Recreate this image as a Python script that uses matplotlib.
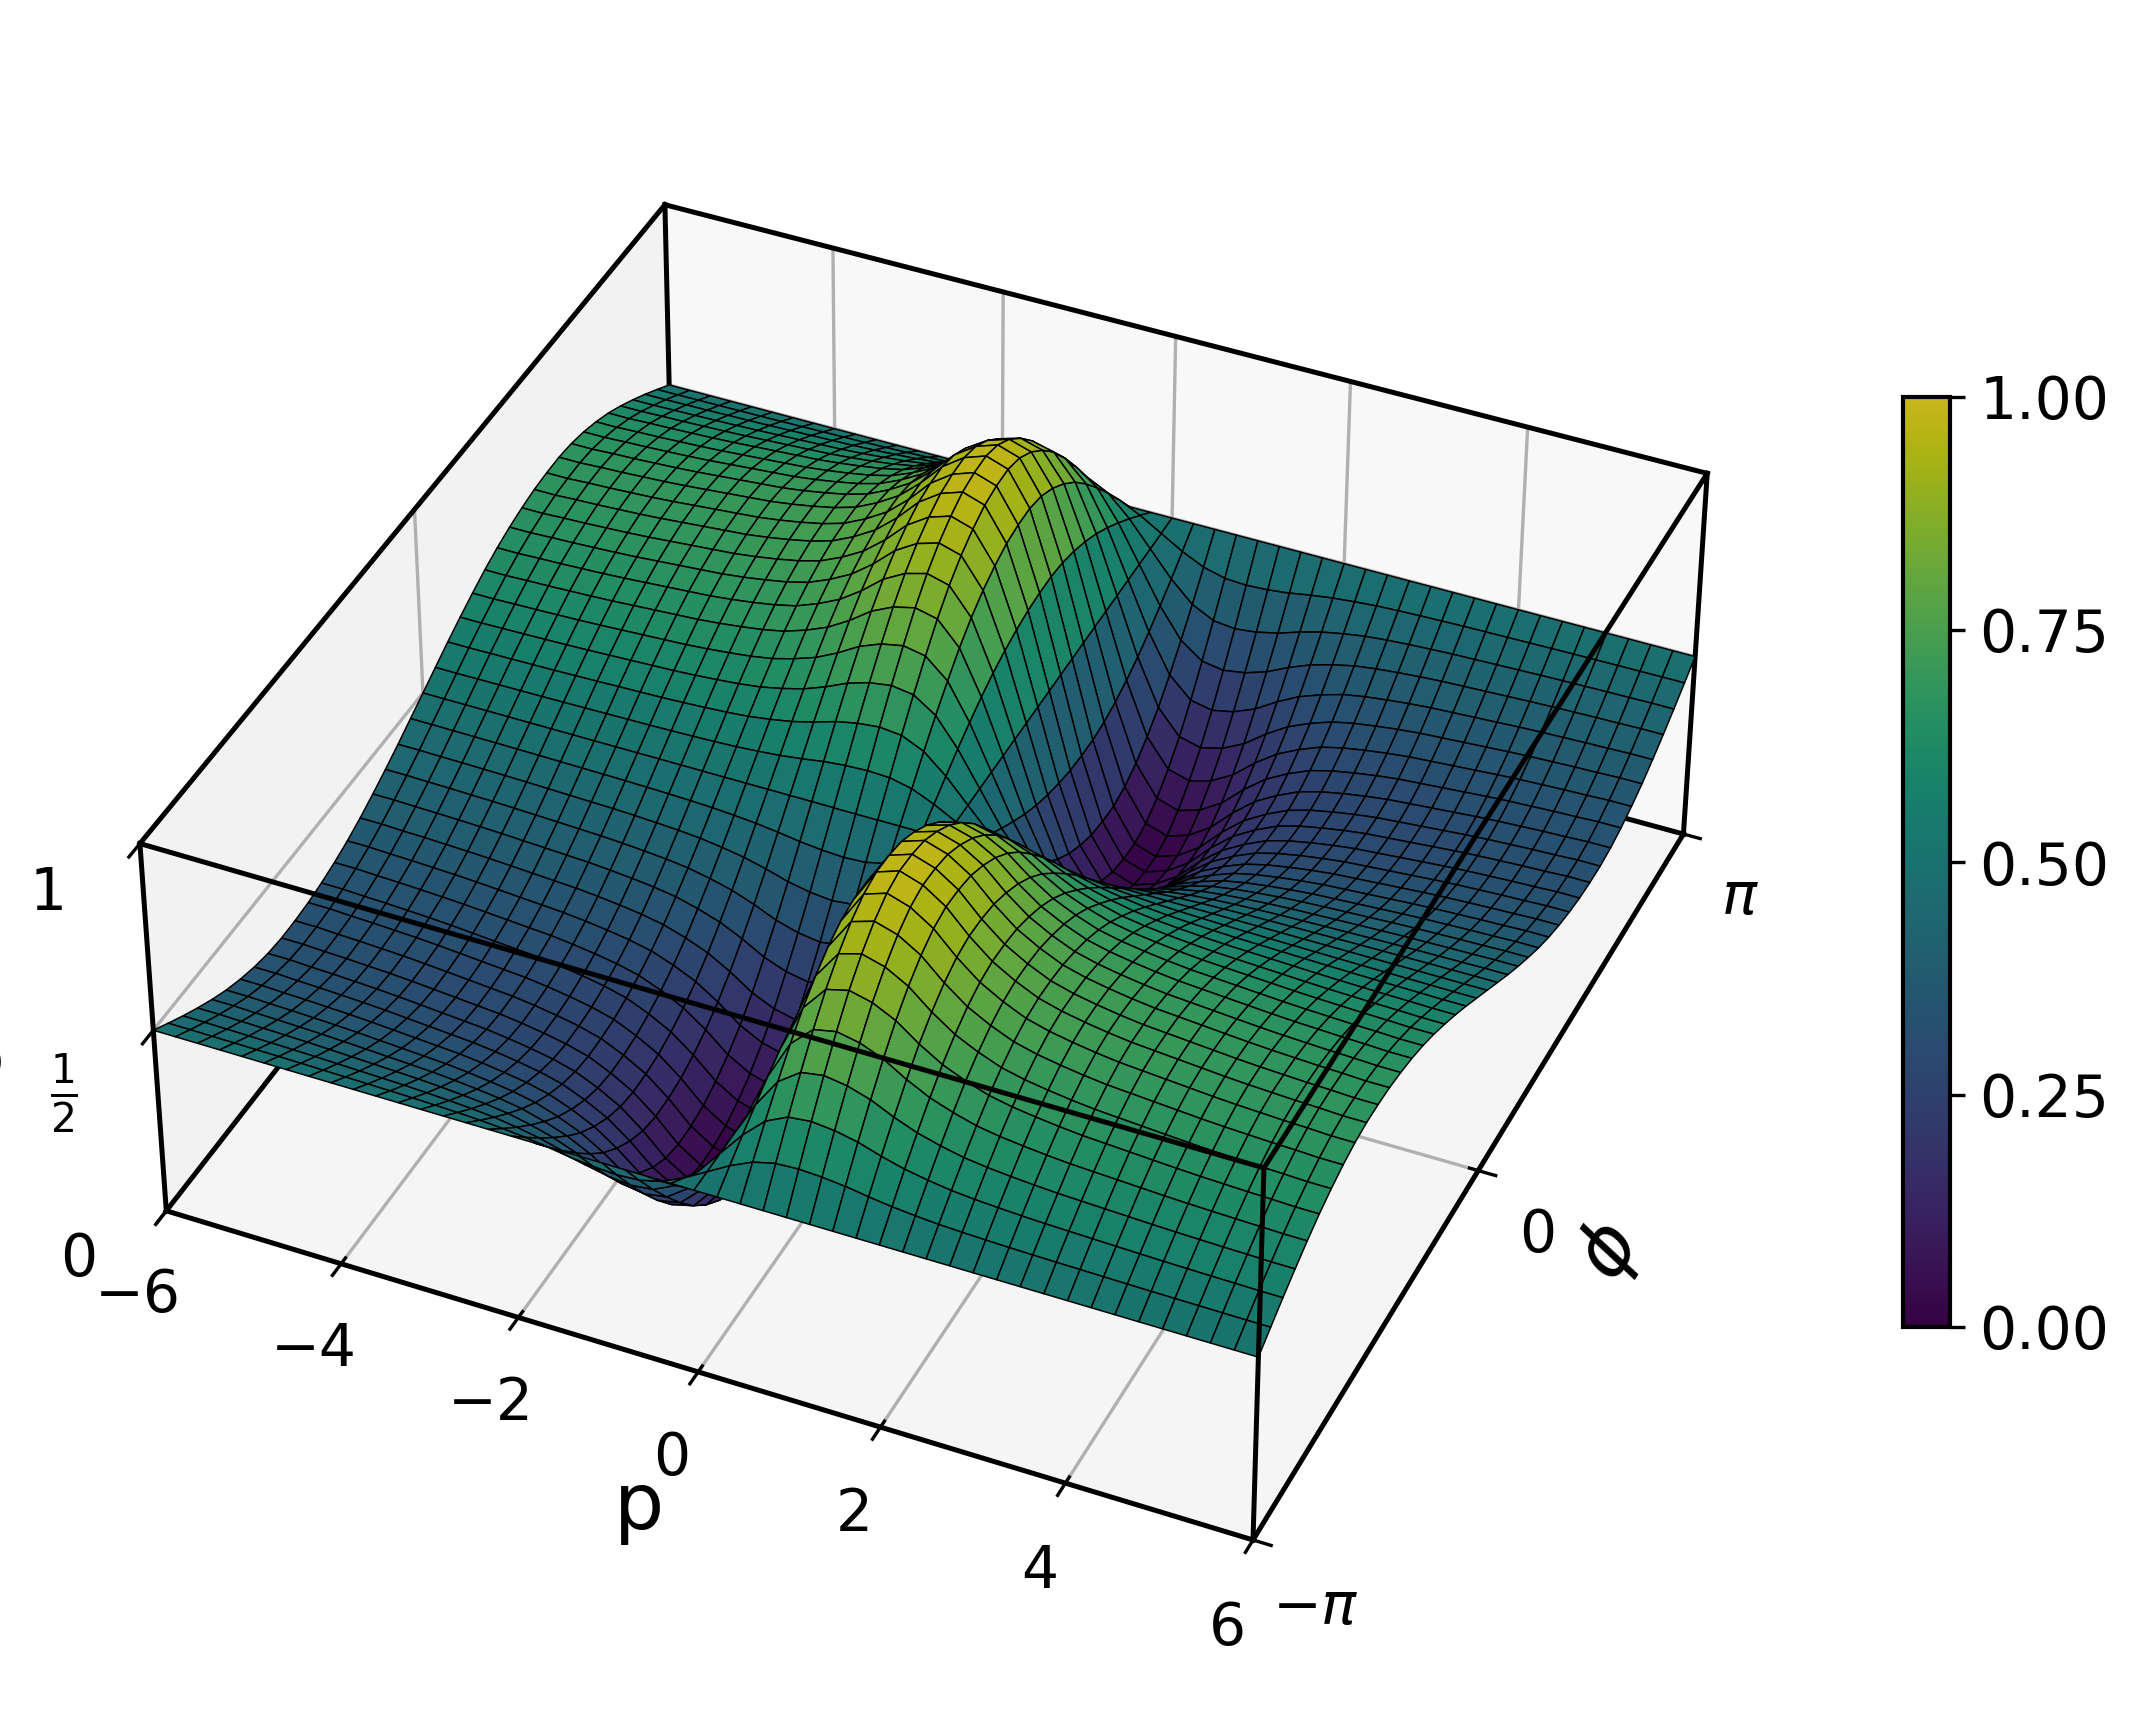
import numpy as np
import matplotlib
matplotlib.use("Agg")
import matplotlib.pyplot as plt
from matplotlib.colors import ListedColormap, Normalize
from matplotlib.cm import ScalarMappable

# ---- values ----
p_values = [-6,-5.75,-5.5,-5.25,-5,-4.75,-4.5,-4.25,-4,-3.75,-3.5,-3.25,-3,-2.75,-2.5,-2.25,-2,-1.75,-1.5,-1.25,-1,-0.75,-0.5,-0.25,0,
            0.25,0.5,0.75,1,1.25,1.5,1.75,2,2.25,2.5,2.75,3,3.25,3.5,3.75,4,4.25,4.5,4.75,5,5.25,5.5,5.75,6]
p_amp = [.175,.175,.178,.18,.183,.186,.19,.195,.2,.205,.21,.218,.228,.24,.257,.285,.32,.37,.43,.47,.49,.47,.38,.21,0,
         -.21,-.38,-.47,-.49,-.47,-.43,-.37,-.32,-.285,-.257,-.24,-.228,-.218,-.21,-.205,-.2,-.195,-.19,-.186,-.183,-.18,-.178,-.175,-.175]
phi_shape = [0,-.165,-.325,-.475,-.615,-.74,-.84,-.92,-.975,-1,-.995,-.975,-.93,-.87,-.79,-.69,-.57,-.44,-.3,-.15,0,
             .15,.3,.44,.57,.69,.79,.87,.93,.975,.995,1,.975,.92,.84,.74,.615,.475,.325,.165,0]
z_ticks = [0, 0.5, 1]
z_labels = ['0', r'$\frac{1}{2}$', '1']
p_ticks = [-6,-4,-2,0,2,4,6]
phi_ticks = [-np.pi, 0, np.pi]
phi_labels = [r'$-\pi$', '0', r'$\pi$']
cbar_ticks = [0, .25, .5, .75, 1]
cbar_labels = ['0.00','0.25','0.50','0.75','1.00']

W, H = 2138, 1724
S = W/1568
fig = plt.figure(figsize=(W/300, H/300), dpi=300)
s, tx, ty = 9008.4, 944.1, 885.4
side = 0.185*s
ax = fig.add_axes([(tx-0.095*s)/W, (ty-0.095*s)/H, side/W, side/H], projection='3d')
xl, yl, zl = (-6, 6), (-np.pi, np.pi), (0, 1)
ax.set_xlim(xl); ax.set_ylim(yl); ax.set_zlim(zl)
ax.view_init(38.81, -65.97)
ax.set_box_aspect((1, 1.006, 0.401))

base = plt.get_cmap('viridis')(np.linspace(0, 1, 256))
base[:, :3] *= 0.79
cmap = ListedColormap(base)
norm = Normalize(0, 1)

P, PHI = np.meshgrid(p_values, np.linspace(-np.pi, np.pi, len(phi_shape)))
Z = 0.5 + np.outer(np.array(phi_shape), np.array(p_amp))

ax.computed_zorder = False
ax.plot_surface(P, PHI, Z, cmap=cmap, norm=norm, rstride=1, cstride=1, edgecolor='k', linewidth=0.36, zorder=2)

def edge(a, b, z, lw=1.2):
    ax.plot([a[0], b[0]], [a[1], b[1]], [a[2], b[2]], color='k', lw=lw, zorder=z, solid_capstyle='projecting')
x0,x1 = xl; y0,y1 = yl; z0,z1 = zl
for a,b in [((x0,y1,z0),(x0,y1,z1)),((x1,y1,z0),(x1,y1,z1)),((x0,y0,z0),(x0,y1,z0)),((x0,y1,z0),(x1,y1,z0))]:
    edge(a,b,1)
for a,b in [((x0,y0,z1),(x1,y0,z1)),((x1,y0,z1),(x1,y1,z1)),((x1,y1,z1),(x0,y1,z1)),((x0,y1,z1),(x0,y0,z1)),
            ((x0,y0,z0),(x0,y0,z1)),((x1,y0,z0),(x1,y0,z1)),((x0,y0,z0),(x1,y0,z0)),((x1,y0,z0),(x1,y1,z0))]:
    edge(a,b,3)

ax.set_xticks(p_ticks)
ax.set_yticks(phi_ticks); ax.set_yticklabels(phi_labels)
ax.set_zticks(z_ticks); ax.set_zticklabels(['']*len(z_ticks))
ax.tick_params(labelsize=14)
ax.tick_params(axis='x', pad=3)
ax.tick_params(axis='y', pad=3.5)
ax.zaxis._axinfo['tick']['linewidth'] = {True: 0, False: 0}
ax.zaxis.line.set_linewidth(0)
ax.xaxis.set_pane_color((0.95,0.95,0.95,1))
ax.yaxis.set_pane_color((0.973,0.973,0.973,1))
ax.zaxis.set_pane_color((0.96,0.96,0.96,1))

# z axis on the left front edge: tick stubs and labels
for z in z_ticks:
    edge((x0, y0-0.12, z), (x0, y0, z), 3, lw=0.8)
for lab, (lx, ly) in zip(z_labels, [(58,924), (47,802), (35,655)]):
    fig.text(lx*S/W, 1-ly*S/H, lab, fontsize=14, ha='center', va='center')

fig.text(469*S/W, 1-1105*S/H, 'p', fontsize=19, ha='center', va='center')
fig.text(1180*S/W, 1-918*S/H, r'$\phi$', fontsize=18.5, rotation=58, ha='center', va='center')
fig.text(4/W, 1-1062/H, 'ρ', fontsize=14, ha='right', va='center')

cax = fig.add_axes([1903/W, 1-1327/H, 47/W, 930/H])
cb = fig.colorbar(ScalarMappable(norm=norm, cmap=cmap), cax=cax, ticks=cbar_ticks)
cb.ax.set_yticklabels(cbar_labels)
cb.ax.tick_params(labelsize=14, width=0.8)
cb.outline.set_linewidth(1)

fig.savefig('out.png', dpi=300)
